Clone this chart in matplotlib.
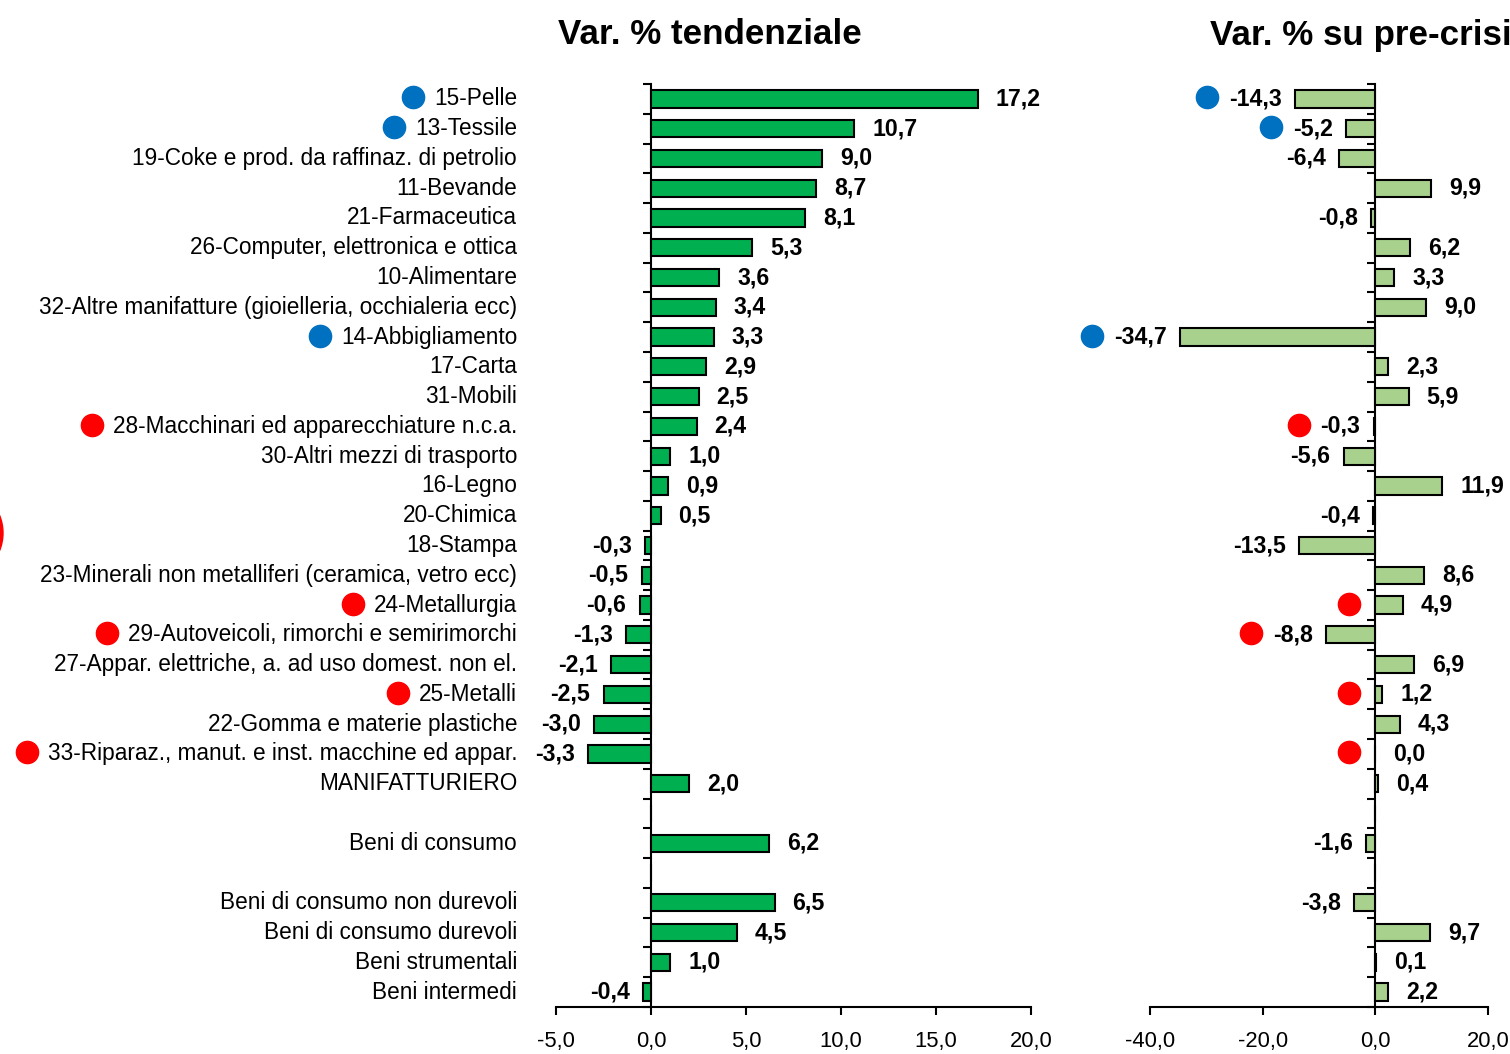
import numpy as np
import matplotlib
matplotlib.use("Agg")
import matplotlib.pyplot as plt
from matplotlib import font_manager
from matplotlib.patches import Circle
from matplotlib.transforms import blended_transform_factory

# ── Data ─────────────────────────────────────────────────────────────────────
categories = [
    "15-Pelle", "13-Tessile", "19-Coke e prod. da raffinaz. di petrolio",
    "11-Bevande", "21-Farmaceutica", "26-Computer, elettronica e ottica",
    "10-Alimentare", "32-Altre manifatture (gioielleria, occhialeria ecc)",
    "14-Abbigliamento", "17-Carta", "31-Mobili",
    "28-Macchinari ed apparecchiature n.c.a.", "30-Altri mezzi di trasporto",
    "16-Legno", "20-Chimica", "18-Stampa",
    "23-Minerali non metalliferi (ceramica, vetro ecc)", "24-Metallurgia",
    "29-Autoveicoli, rimorchi e semirimorchi",
    "27-Appar. elettriche, a. ad uso domest. non el.", "25-Metalli",
    "22-Gomma e materie plastiche",
    "33-Riparaz., manut. e inst. macchine ed appar.",
    "MANIFATTURIERO", "", "Beni di consumo", "",
    "Beni di consumo non durevoli", "Beni di consumo durevoli",
    "Beni strumentali", "Beni intermedi",
]
var_tend = [17.2, 10.7, 9.0, 8.7, 8.1, 5.3, 3.6, 3.4, 3.3, 2.9, 2.5, 2.4, 1.0,
            0.9, 0.5, -0.3, -0.5, -0.6, -1.3, -2.1, -2.5, -3.0, -3.3,
            2.0, np.nan, 6.2, np.nan, 6.5, 4.5, 1.0, -0.4]
var_precrisi = [-14.3, -5.2, -6.4, 9.9, -0.8, 6.2, 3.3, 9.0, -34.7, 2.3, 5.9,
                -0.3, -5.6, 11.9, -0.4, -13.5, 8.6, 4.9, -8.8, 6.9, 1.2, 4.3,
                0.0, 0.4, np.nan, -1.6, np.nan, -3.8, 9.7, 0.1, 2.2]
# sectors flagged with a coloured dot
blue_rows = ["15-Pelle", "13-Tessile", "14-Abbigliamento"]
red_rows = ["28-Macchinari ed apparecchiature n.c.a.", "24-Metallurgia",
            "29-Autoveicoli, rimorchi e semirimorchi", "25-Metalli",
            "33-Riparaz., manut. e inst. macchine ed appar."]

DARK_GREEN = "#00B050"
LIGHT_GREEN = "#A9D18E"
BLUE = "#0070C0"
RED = "#FF0000"

# ── Fonts ────────────────────────────────────────────────────────────────────
names = {f.name for f in font_manager.fontManager.ttflist}
FAM = [f for f in ["Liberation Sans Narrow", "Liberation Sans", "DejaVu Sans"] if f in names]
plt.rcParams["font.family"] = FAM

FS_CAT = 16.3    # category labels
FS_VAL = 16.7    # bold value labels
FS_TICK = 15.8
FS_TITLE = 25.2

W, H, DPI = 15.1, 10.54, 100
fig = plt.figure(figsize=(W, H), dpi=DPI)

y = np.arange(len(categories))
n = len(categories)

def px(x0, x1, top=84, bottom=1007):
    return [x0 / 1510, 1 - bottom / 1054, (x1 - x0) / 1510, (bottom - top) / 1054]

ax1 = fig.add_axes(px(556, 1031))
ax2 = fig.add_axes(px(1150, 1488))

def fmt(v):
    return f"{v:.1f}".replace(".", ",")

def style(ax, xlim, ticks, vals, color):
    v = np.array(vals, dtype=float)
    ax.barh(y, np.nan_to_num(v), height=0.58, color=color, edgecolor="black",
            linewidth=1.5, zorder=3)
    ax.set_xlim(*xlim)
    ax.set_ylim(n - 0.5, -0.5)
    for s in ["top", "right"]:
        ax.spines[s].set_visible(False)
    ax.spines["left"].set_position(("data", 0))
    ax.spines["left"].set_linewidth(1.5)
    ax.spines["bottom"].set_linewidth(1.5)
    ax.set_xticks(ticks)
    ax.set_xticklabels([fmt(t) for t in ticks], fontsize=FS_TICK)
    ax.tick_params(axis="x", length=6, width=1.5, pad=11)
    ax.set_yticks([])
    ax.set_yticks(np.arange(-0.5, n, 1.0), minor=True)
    ax.tick_params(axis="y", which="minor", length=6, width=1.5, direction="out")
    labels = []
    for yi, vi in zip(y, v):
        if np.isnan(vi):
            labels.append(None)
            continue
        if vi >= 0:
            t = ax.annotate(fmt(vi), (vi, yi), xytext=(13, 0), textcoords="offset points",
                            ha="left", va="center", fontsize=FS_VAL, fontweight="bold")
        else:
            t = ax.annotate(fmt(vi), (vi, yi), xytext=(-9.5, 0), textcoords="offset points",
                            ha="right", va="center", fontsize=FS_VAL, fontweight="bold")
        labels.append(t)
    return labels

vl1 = style(ax1, (-5, 20), [-5, 0, 5, 10, 15, 20], var_tend, DARK_GREEN)
vl2 = style(ax2, (-40, 20), [-40, -20, 0, 20], var_precrisi, LIGHT_GREEN)

# category labels, right aligned left of the first panel
tr = blended_transform_factory(ax1.transAxes, ax1.transData)
cat_txt = []
for yi, c in zip(y, categories):
    cat_txt.append(ax1.text(-0.082, yi, c, transform=tr, ha="right", va="center",
                            fontsize=FS_CAT))

fig.text(710 / 1510, 1 - 35 / 1054, "Var. % tendenziale", ha="center", va="center",
         fontsize=FS_TITLE, fontweight="bold")
fig.text(1210 / 1510, 1 - 35 / 1054, "Var. % su pre-crisi", ha="left", va="center",
         fontsize=FS_TITLE, fontweight="bold")

# coloured dots, placed next to the rendered texts
fig.canvas.draw()
rend = fig.canvas.get_renderer()

def dot(ax, xpix, yi, color):
    xd = ax.transData.inverted().transform((xpix, 0))[0]
    ax.plot([xd], [yi - 0.05], "o", ms=16, color=color, mec=color, clip_on=False, zorder=5)

zero2 = ax2.transData.transform((0, 0))[0]
for rows, color in [(blue_rows, BLUE), (red_rows, RED)]:
    for name in rows:
        i = categories.index(name)
        bb = cat_txt[i].get_window_extent(rend)
        dot(ax1, bb.x0 - 21, i, color)
        lb = vl2[i].get_window_extent(rend)
        dot(ax2, min(lb.x0 - 22, zero2 - 26), i, color)

# partially visible circle at the left edge
fig.add_artist(Circle((-0.44, (1054 - 533) / 100), 0.47, transform=fig.dpi_scale_trans,
                      color=RED, clip_on=False))

fig.savefig("out.png", dpi=DPI)
